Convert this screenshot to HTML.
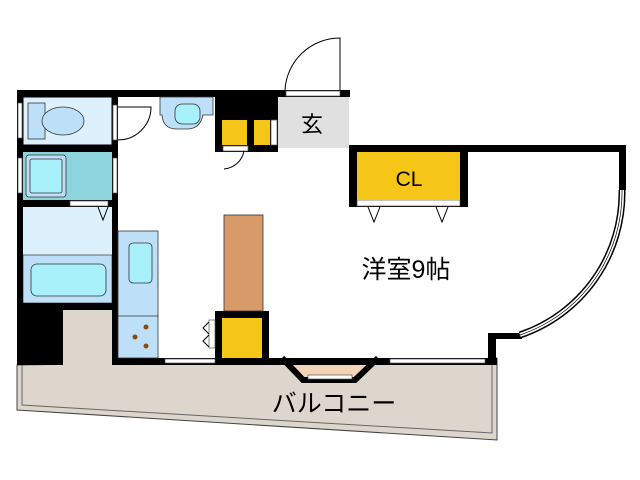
<!DOCTYPE html>
<html><head><meta charset="utf-8"><style>
html,body{margin:0;padding:0;background:#fff;width:640px;height:480px;overflow:hidden}
svg{display:block}
text{font-family:"Liberation Sans","Noto Sans CJK JP",sans-serif}
</style></head><body>
<svg width="640" height="480" viewBox="0 0 640 480">
<!-- balcony -->
<polygon points="17,365 497,358 497,440 17,410" fill="#ddd6cc" stroke="#444" stroke-width="1"/>
<polyline points="22,365 22,405 492,433 492,362" fill="none" stroke="#666" stroke-width="1"/>
<rect x="63" y="310" width="49" height="56" fill="#ddd6cc"/>
<!-- room floor -->
<path d="M118,97 H215 V151 H278 V148 H350 V207 H467 V152 H622 L622,190 A150,150 0 0 1 520,335 L493,337 V360 H118 Z" fill="#fff"/>
<!-- bay -->
<polygon points="285,360 375,360 358,376 302,376" fill="#f3d4b4"/>
<path d="M282,358 L303,380 H355 L378,358" fill="none" stroke="#000" stroke-width="6"/>
<rect x="308" y="375" width="44" height="4" fill="#fff" stroke="#555" stroke-width="0.7"/>
<!-- left rooms -->
<rect x="23" y="97" width="89" height="48" fill="#dcf1fc" stroke="#000" stroke-width="1"/>
<rect x="23" y="152" width="89" height="48" fill="#8dd4dc"/>
<rect x="23" y="207" width="89" height="48" fill="#dcf1fc"/>
<rect x="23" y="255" width="89" height="48" fill="#bde0f8" stroke="#333" stroke-width="0.7"/>
<!-- walls -->
<g fill="#000">
<rect x="17" y="90" width="261" height="7"/>
<rect x="17" y="90" width="6" height="275"/>
<rect x="17" y="303" width="46" height="62"/>
<rect x="63" y="303" width="49" height="7"/>
<rect x="112" y="90" width="6" height="275"/>
<rect x="17" y="145" width="101" height="7"/>
<rect x="17" y="200" width="101" height="7"/>
<rect x="112" y="358" width="385" height="7"/>
<rect x="215" y="90" width="63" height="62"/>
<rect x="278" y="90" width="72" height="7"/>
<rect x="349" y="145" width="277" height="7"/>
<rect x="349" y="145" width="119" height="62"/>
<rect x="619" y="145" width="7" height="45"/>
<rect x="488" y="335" width="8" height="30"/>
<rect x="488" y="333" width="34" height="6"/>
<rect x="215" y="311" width="54" height="52"/>
</g>
<!-- arc window -->
<path d="M622,190 A150,150 0 0 1 520,335" fill="none" stroke="#000" stroke-width="7"/>
<path d="M622,190 A150,150 0 0 1 520,335" fill="none" stroke="#fff" stroke-width="4"/>
<path d="M622,190 A150,150 0 0 1 520,335" fill="none" stroke="#000" stroke-width="0.7"/>
<!-- windows in walls -->
<g fill="#fff" stroke="#555" stroke-width="0.7">
<rect x="18" y="103" width="4" height="35"/><rect x="18" y="158" width="4" height="35"/>
<rect x="113" y="105" width="4" height="35"/><rect x="113" y="158" width="4" height="35"/>
<rect x="70" y="201" width="38" height="5"/>
<rect x="165" y="359" width="50" height="4"/>
<rect x="390" y="359" width="95" height="4"/>
<rect x="286" y="91" width="54" height="5"/>
<rect x="357" y="200" width="103" height="6"/>
<rect x="223" y="146" width="25" height="5"/>
<rect x="271" y="120" width="6" height="25"/>
<rect x="209" y="320" width="6" height="28"/>
</g>
<!-- doors -->
<g fill="none" stroke="#000" stroke-width="1">
<path d="M118,140 A33,33 0 0 0 151,107 H118"/>
<path d="M285,90 A55,55 0 0 1 340,38 V90"/>
<path d="M278,145 A25,25 0 0 0 297,120"/>
<path d="M224,169 A22,22 0 0 0 244,151"/>
<path d="M98,207 L103,220 L108,207"/>
<path d="M368,207 L374,222 L380,207 M436,207 L442,222 L448,207"/>
<path d="M209,322 L203,328 L209,334 M209,335 L203,341 L209,347"/>
</g>
<!-- genkan -->
<rect x="278" y="97" width="71" height="51" fill="#e0e0e0"/>
<text x="312" y="132" font-size="22" text-anchor="middle">玄</text>
<!-- fixtures -->
<rect x="28" y="103" width="17" height="36" fill="#bde0f8" stroke="#333" stroke-width="0.8"/>
<ellipse cx="63" cy="121" rx="21" ry="14" fill="#bde0f8" stroke="#333" stroke-width="0.8"/>
<rect x="26" y="155" width="40" height="42" rx="3" fill="#bde0f8" stroke="#333" stroke-width="0.8"/>
<rect x="30" y="159" width="32" height="34" rx="2" fill="#a8f0fa" stroke="#333" stroke-width="0.8"/>
<rect x="31" y="264" width="75" height="32" rx="6" fill="#a8f0fa" stroke="#333" stroke-width="0.8"/>
<path d="M160,97 H213 V115 H203 Q200,129 187,129 H177 Q163,129 162,115 H160 Z" fill="#bde0f8" stroke="#333" stroke-width="0.8"/>
<rect x="175" y="104" width="25" height="20" rx="7" fill="#a8f0fa" stroke="#333" stroke-width="0.8"/>
<rect x="118" y="231" width="40" height="127" fill="#bde0f8" stroke="#333" stroke-width="0.8"/>
<line x1="118" y1="316" x2="158" y2="316" stroke="#333" stroke-width="0.8"/>
<rect x="129" y="243" width="23" height="40" rx="4" fill="#a8f0fa" stroke="#333" stroke-width="0.8"/>
<g fill="#8a4a10"><circle cx="146" cy="327" r="2.5"/><circle cx="135" cy="337" r="2.5"/><circle cx="146" cy="346" r="2.5"/></g>
<rect x="224" y="215" width="39" height="96" fill="#d99a6a" stroke="#333" stroke-width="0.8"/>
<g fill="#f5c518">
<rect x="222" y="120" width="25" height="25"/><rect x="254" y="120" width="16" height="25"/>
<rect x="222" y="318" width="40" height="40"/>
<rect x="357" y="152" width="103" height="48"/>
</g>
<text x="409" y="186" font-size="21" text-anchor="middle">CL</text>
<text x="406" y="278" font-size="25" text-anchor="middle">洋室9帖</text>
<text x="334" y="412" font-size="25" text-anchor="middle">バルコニー</text>
</svg>
</body></html>
